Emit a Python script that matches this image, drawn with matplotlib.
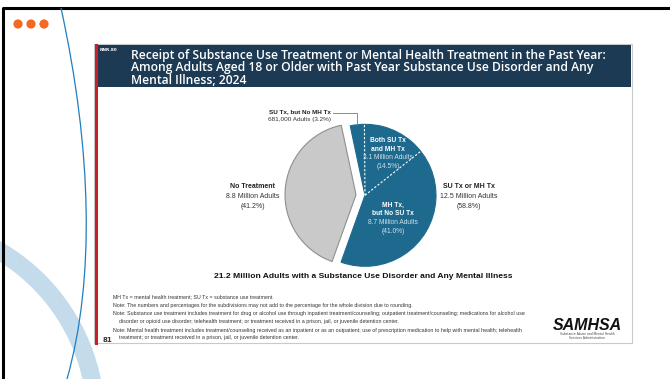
import numpy as np
import matplotlib
matplotlib.use("Agg")
import matplotlib.pyplot as plt
from matplotlib.patches import Rectangle, Circle, Arc, PathPatch
from matplotlib.path import Path

# ---- data ----
outer_labels = ["No Treatment", "SU Tx or MH Tx"]
outer_values = [41.2, 58.8]
outer_counts = ["8.8 Million Adults", "12.5 Million Adults"]
inner_labels = ["SU Tx, but No MH Tx", "Both SU Tx\nand MH Tx", "MH Tx,\nbut No SU Tx"]
inner_values = [3.2, 14.5, 41.0]
inner_counts = ["681,000 Adults", "3.1 Million Adults", "8.7 Million Adults"]
title_lines = ["Receipt of Substance Use Treatment or Mental Health Treatment in the Past Year:",
               "Among Adults Aged 18 or Older with Past Year Substance Use Disorder and Any",
               "Mental Illness; 2024"]
caption = "21.2 Million Adults with a Substance Use Disorder and Any Mental Illness"
notes = ["MH Tx = mental health treatment; SU Tx = substance use treatment.",
         "Note: The numbers and percentages for the subdivisions may not add to the percentage for the whole division due to rounding.",
         "Note: Substance use treatment includes treatment for drug or alcohol use through inpatient treatment/counseling; outpatient treatment/counseling; medications for alcohol use",
         "    disorder or opioid use disorder; telehealth treatment; or treatment received in a prison, jail, or juvenile detention center.",
         "Note: Mental health treatment includes treatment/counseling received as an inpatient or as an outpatient; use of prescription medication to help with mental health; telehealth",
         "    treatment; or treatment received in a prison, jail, or juvenile detention center."]

W, H = 670, 379
fig = plt.figure(figsize=(W / 100, H / 100), dpi=100)
fig.patch.set_facecolor("white")
ax = fig.add_axes([0, 0, 1, 1])
ax.set_xlim(0, W)
ax.set_ylim(H, 0)
ax.axis("off")

ARIAL = ["Liberation Sans", "DejaVu Sans"]
SANS = ["Open Sans", "DejaVu Sans"]

# slide frame
ax.plot([3, 3, W + 5], [H + 5, 8, 8], color="black", lw=2.2, solid_capstyle="butt")
# orange dots
for cx in (18, 31, 44):
    ax.add_patch(Circle((cx, 24), 4.6, color="#f26a21", lw=0))
# light blue arc band
ax.add_patch(Arc((-100, 420), 392, 392, theta1=270, theta2=360, color="#c3dbea", lw=13, zorder=1))
# thin blue curve
verts = [(61, 8), (92, 150), (95, 280), (67, 379)]
ax.add_patch(PathPatch(Path(verts, [Path.MOVETO, Path.CURVE4, Path.CURVE4, Path.CURVE4]),
                       fc="none", ec="#1f7fc0", lw=0.9, zorder=2))

# white panel
ax.add_patch(Rectangle((94, 44), 538, 299, fc="white", ec="#c9c9c9", lw=0.8, zorder=3))
# header
ax.add_patch(Rectangle((96, 45), 535, 42, fc="#1d3a54", ec="none", zorder=4))
# red vertical line
ax.plot([96, 96], [45, 343], color="#c8202a", lw=2.2, zorder=5)

# ---- pie ----
pcx, pcy, box = 360.5, 195, 100
pax = fig.add_axes([(pcx - box) / W, (H - pcy - box) / H, 2 * box / W, 2 * box / H])
R = 71
gap = 4.5
start = 102
wedges, _ = pax.pie(outer_values, radius=R, startangle=start, explode=[gap, gap],
                    colors=["#c9c9c9", "#1e6a8e"], counterclock=True,
                    wedgeprops=dict(linewidth=0.8))
pax.set_xlim(-box, box)
pax.set_ylim(-box, box)
pax.set_aspect("equal")
pax.axis("off")
wedges[0].set_edgecolor("#8f8f8f")
wedges[1].set_edgecolor("#1e6a8e")
bcx, bcy = wedges[1].center
ang = start + 360
for v in inner_values[:2]:
    ang -= v / 100 * 360
    t = np.deg2rad(ang)
    pax.plot([bcx, bcx + R * np.cos(t)], [bcy, bcy + R * np.sin(t)], color="white",
             lw=0.8, ls=(0, (2, 1.6)))

# leader line for small slice
mid = np.deg2rad(start + 360 - inner_values[0] / 100 * 360 / 2)
px, py = bcx + R * np.cos(mid), bcy + R * np.sin(mid)
pax.plot([-27.5, px, px], [82, 82, py], color="#777777", lw=0.6, clip_on=False)

# ---- overlay for text ----
tax = fig.add_axes([0, 0, 1, 1])
tax.set_xlim(0, W)
tax.set_ylim(H, 0)
tax.axis("off")

tax.text(100, 50, "NNR.80", color="white", fontsize=3, fontweight="bold", va="center")
for i, line in enumerate(title_lines):
    tax.text(131, 55 + i * 12.8, line, color="white", fontsize=8.7, family=SANS,
             fontweight="semibold", va="center", ha="left")


def label(x, y, head, rest, color_head="#222222", color_rest="#333333", ha="center", dy=9.2, fs=5.0):
    k = 0
    for ln in head.split("\n"):
        tax.text(x, y + k * dy, ln, ha=ha, va="center", fontsize=fs, family=ARIAL,
                 fontweight="bold", color=color_head)
        k += 1
    for ln in rest:
        tax.text(x, y + k * dy, ln, ha=ha, va="center", fontsize=fs, family=ARIAL,
                 color=color_rest)
        k += 1


label(300, 112, inner_labels[0], [f"{inner_counts[0]} ({inner_values[0]:.1f}%)"], dy=8, fs=4.6)
label(253, 187, outer_labels[0], [outer_counts[0], f"({outer_values[0]:.1f}%)"], dy=9.8)
label(469, 187, outer_labels[1], [outer_counts[1], f"({outer_values[1]:.1f}%)"], dy=9.8)
label(388, 141, inner_labels[1], [inner_counts[1], f"({inner_values[1]:.1f}%)"],
      color_head="white", color_rest="#cfe1ec", dy=8.4, fs=4.8)
label(393, 205, inner_labels[2], [inner_counts[2], f"({inner_values[2]:.1f}%)"],
      color_head="white", color_rest="#cfe1ec", dy=8.7, fs=4.8)

tax.text(363, 277, caption, ha="center", va="center", fontsize=6.1, family=ARIAL,
         fontweight="bold", color="#111111")

ys = [297, 305.5, 314, 321.5, 330.5, 338]
for y, n in zip(ys, notes):
    tax.text(113, y, n, ha="left", va="center", fontsize=3.8, family=ARIAL, color="#333333")

tax.text(103, 340, "81", ha="left", va="center", fontsize=5, fontweight="bold", color="#333333")
tax.text(587, 325, "SAMHSA", ha="center", va="center", fontsize=11.5, fontweight="bold",
         fontstyle="italic", family=ARIAL, color="#111111")
tax.text(587, 334, "Substance Abuse and Mental Health", ha="center", va="center", fontsize=2.2,
         color="#444444")
tax.text(587, 338, "Services Administration", ha="center", va="center", fontsize=2.2,
         color="#444444")

fig.savefig("out.png", dpi=100, facecolor="white")
